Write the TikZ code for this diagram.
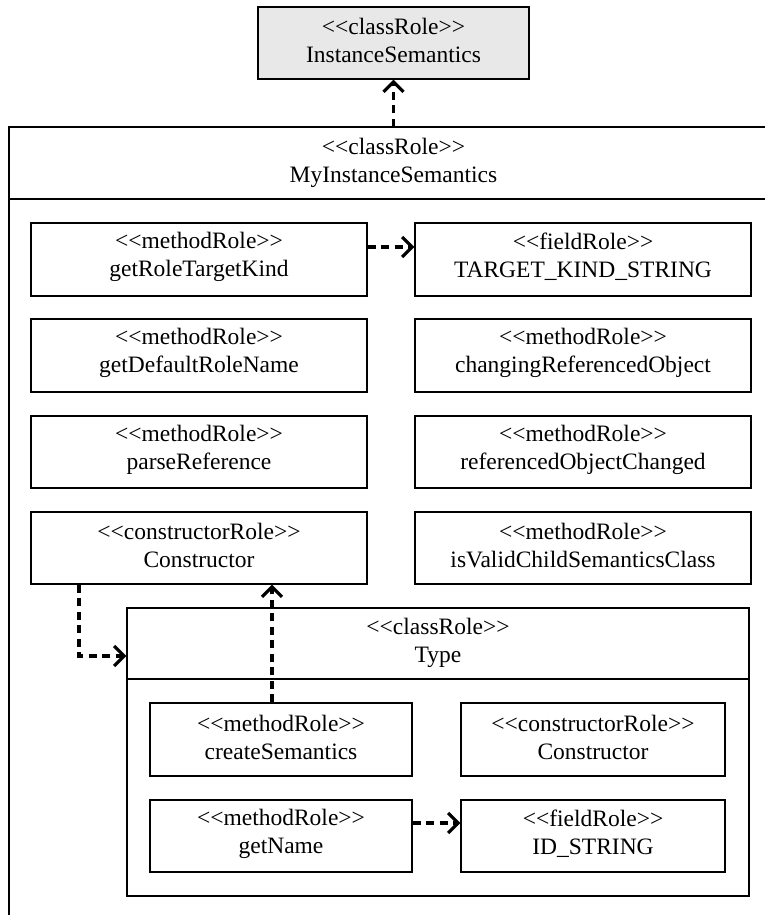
\documentclass[tikz,border=0pt]{standalone}
\usepackage{fontspec}
\setmainfont{Liberation Serif}
\usetikzlibrary{arrows.meta}

% stereotype marker, kept apart so << and >> are not turned into guillemets
\newcommand\umlst[1]{<{}<#1>{}>}

\tikzset{
  rolebox/.style={draw=black, line width=1.4pt, inner sep=0pt},
  boxtext/.style={inner sep=0pt, align=center, font=\fontsize{23.5}{28}\selectfont},
  caption/.style={label={[boxtext, yshift=2.5pt]center:{#1}}},
  frameline/.style={draw=black, line width=1.6pt},
  dep/.style={draw=black, line width=3.2pt, dash pattern=on 8pt off 5.5pt,
    -{Straight Barb[length=10pt,width=20pt,line width=3.2pt]}},
}

\begin{document}
\begin{tikzpicture}[x=1pt,y=-1pt]
  \useasboundingbox (0,0) rectangle (765,915);
  \clip (0,0) rectangle (765,915);

  % base class
  \node[rolebox, fill={rgb,255:red,232;green,232;blue,232}, minimum width=271pt, minimum height=72pt,
    caption={\umlst{classRole}\\InstanceSemantics}] (base) at (393.5,43) {};

  % outer class frame (runs past the right and bottom edges)
  \coordinate (oTL) at (9,127);
  \coordinate (oTR) at (780,127);
  \coordinate (oBL) at (9,930);
  \coordinate (oHL) at (9,199);
  \coordinate (oHR) at (780,199);
  \coordinate (oTop) at (393.5,127);
  \draw[frameline] (oBL) -- (oTL) -- (oTR);
  \draw[frameline] (oHL) -- (oHR);
  \node[boxtext] (outerTitle) at (393.5,163) {\umlst{classRole}\\MyInstanceSemantics};

  % left column members
  \node[rolebox, minimum width=336pt, minimum height=73pt,
    caption={\umlst{methodRole}\\getRoleTargetKind}] (m1) at (199,259.5) {};
  \node[rolebox, minimum width=336pt, minimum height=73pt,
    caption={\umlst{methodRole}\\getDefaultRoleName}] (m2) at (199,355.5) {};
  \node[rolebox, minimum width=336pt, minimum height=72pt,
    caption={\umlst{methodRole}\\parseReference}] (m3) at (199,452) {};
  \node[rolebox, minimum width=336pt, minimum height=72pt,
    caption={\umlst{constructorRole}\\Constructor}] (m4) at (199,548) {};

  % right column members
  \node[rolebox, minimum width=336pt, minimum height=73pt,
    caption={\umlst{fieldRole}\\TARGET\_KIND\_STRING}] (r1) at (583,259.5) {};
  \node[rolebox, minimum width=336pt, minimum height=73pt,
    caption={\umlst{methodRole}\\changingReferencedObject}] (r2) at (583,355.5) {};
  \node[rolebox, minimum width=336pt, minimum height=72pt,
    caption={\umlst{methodRole}\\referencedObjectChanged}] (r3) at (583,452) {};
  \node[rolebox, minimum width=336pt, minimum height=72pt,
    caption={\umlst{methodRole}\\isValidChildSemanticsClass}] (r4) at (583,548) {};

  % nested class Type
  \node[rolebox, minimum width=622pt, minimum height=288pt] (type) at (438,752) {};
  \coordinate (tHL) at (127,679);
  \coordinate (tHR) at (749,679);
  \draw[line width=1.4pt] (tHL) -- (tHR);
  \node[boxtext] (typeTitle) at (438,643) {\umlst{classRole}\\Type};

  \node[rolebox, minimum width=262pt, minimum height=73pt,
    caption={\umlst{methodRole}\\createSemantics}] (t1) at (281,739.5) {};
  \node[rolebox, minimum width=264pt, minimum height=73pt,
    caption={\umlst{constructorRole}\\Constructor}] (t2) at (593,739.5) {};
  \node[rolebox, minimum width=262pt, minimum height=72pt,
    caption={\umlst{methodRole}\\getName}] (t3) at (281,836) {};
  \node[rolebox, minimum width=264pt, minimum height=72pt,
    caption={\umlst{fieldRole}\\ID\_STRING}] (t4) at (593,836) {};

  % dependencies
  \draw[dep] (oTop) -- (base.south);
  \draw[dep] (m1.east |- 0,247) -- (r1.west |- 0,247);
  \draw[dep] (m4.south -| 79,0) |- (type.west |- 0,656);
  \draw[dep] (t1.north -| 272,0) -- (m4.south -| 272,0);
  \draw[dep] (t3.east |- 0,823) -- (t4.west |- 0,823);
\end{tikzpicture}
\end{document}
